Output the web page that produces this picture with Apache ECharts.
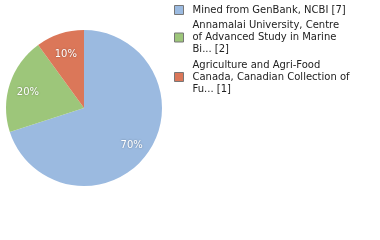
<!DOCTYPE html>
<html><head><meta charset="utf-8">
<script src="https://cdn.jsdelivr.net/npm/echarts@6/dist/echarts.min.js"></script>
<style>html,body{margin:0;padding:0;background:#fff}#c{width:380px;height:240px}</style>
</head><body><div id="c"></div>
<script>
const categories = [
  "Mined from GenBank, NCBI [7]",
  "Annamalai University, Centre\nof Advanced Study in Marine\nBi... [2]",
  "Agriculture and Agri-Food\nCanada, Canadian Collection of\nFu... [1]"
];
const values = [7, 2, 1];
const colors = ["#9bbae0", "#9dc67a", "#db7759"];

const chart = echarts.init(document.getElementById('c'), null, {renderer: 'canvas'});
const data = categories.map((n, i) => ({name: n, value: values[i], itemStyle: {color: colors[i]}}));
const total = values.reduce((a, b) => a + b, 0);
chart.setOption({
  animation: false,
  legend: {
    orient: 'vertical', left: 174, top: 4, padding: 0,
    itemWidth: 9, itemHeight: 9, itemGap: 3.5,
    icon: 'rect',
    itemStyle: {borderColor: '#777', borderWidth: 1},
    textStyle: {fontFamily: 'DejaVu Sans', fontSize: 10, lineHeight: 12, color: '#222', padding: [0, 0, 0, 4]},
    data: categories
  },
  series: [{
    type: 'pie', center: [84, 108], radius: [0, 78],
    startAngle: 90, clockwise: true,
    label: {show: false}, labelLine: {show: false},
    emphasis: {disabled: true},
    data: data
  }, {
    type: 'pie', center: [84, 108], radius: [34, 78],
    startAngle: 90, clockwise: true, silent: true,
    legendHoverLink: false,
    itemStyle: {color: 'rgba(0,0,0,0)'},
    label: {
      show: true, position: 'inside', color: '#fff',
      fontFamily: 'DejaVu Sans', fontSize: 10, offset: [0, 2.5],
      textShadowColor: 'rgba(0,0,0,0.35)', textShadowBlur: 2,
      formatter: p => Math.round(p.value / total * 100) + '%'
    },
    labelLine: {show: false},
    data: values.map((v, i) => ({name: '__' + i, value: v, itemStyle: {color: 'rgba(0,0,0,0)'}}))
  }]
});
</script></body></html>
